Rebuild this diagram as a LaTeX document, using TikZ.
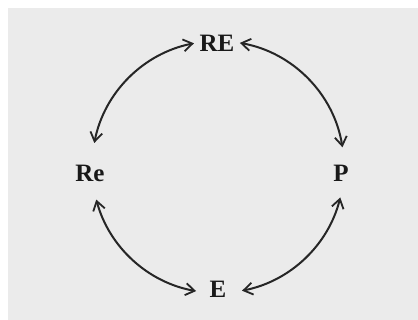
\documentclass[tikz,border=0pt]{standalone}
\usepackage{fontspec}
\setmainfont{Liberation Serif}
\usetikzlibrary{arrows.meta}
\begin{document}
\begin{tikzpicture}[x=1pt,y=-1pt,
  lbl/.style={font=\fontsize{25}{25}\selectfont\bfseries, text=black!90, inner sep=1pt},
  cyc/.style={line width=2pt, draw=black!85, {Straight Barb[length=9pt,width=12pt,line width=1.8pt]}-{Straight Barb[length=9pt,width=12pt,line width=1.8pt]}}]
\useasboundingbox (0,0) rectangle (418,320);
\fill[white] (0,0) rectangle (418,320);
\fill[black!8] (8,8) rectangle (418,320);
\node[lbl] (RE) at (217,43) {RE};
\node[lbl] (Re) at (90,173) {Re};
\node[lbl] (P) at (341,173) {P};
\node[lbl] (E) at (218,289) {E};
\coordinate (C) at (218,167);
\draw[cyc] (C) ++(169:126pt) arc[start angle=169, end angle=101, radius=126pt];
\draw[cyc] (C) ++(80:126pt) arc[start angle=80, end angle=9, radius=126pt];
\draw[cyc] (C) ++(-14:126pt) arc[start angle=-14, end angle=-79, radius=126pt];
\draw[cyc] (C) ++(195:126pt) arc[start angle=195, end angle=260, radius=126pt];
\end{tikzpicture}
\end{document}
